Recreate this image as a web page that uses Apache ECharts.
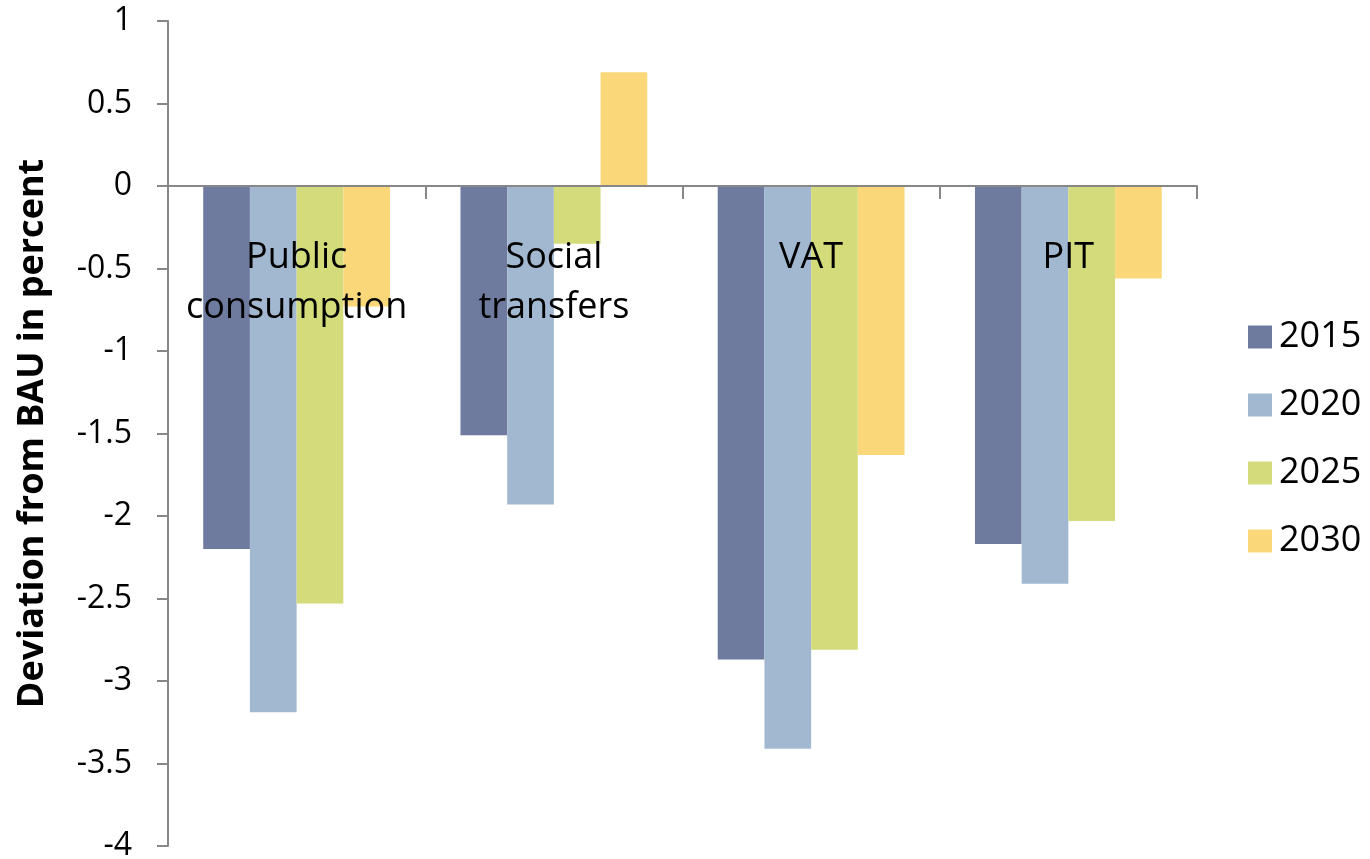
<!DOCTYPE html>
<html>
<head>
<meta charset="utf-8">
<script src="https://cdn.jsdelivr.net/npm/echarts@6/dist/echarts.min.js"></script>
<style>
  html, body { margin: 0; padding: 0; background: #fff; }
  #chart { width: 1370px; height: 859px; }
</style>
</head>
<body>
<div id="chart"></div>
<script>
// Policy instruments (x categories)
const categories = ['Public consumption', 'Social transfers', 'VAT', 'PIT'];
// Years shown as series
const years = ['2015', '2020', '2025', '2030'];
// Deviation from BAU in percent, per year, per instrument
const values2015 = [-2.20, -1.51, -2.87, -2.17];
const values2020 = [-3.19, -1.93, -3.41, -2.41];
const values2025 = [-2.53, -0.35, -2.81, -2.03];
const values2030 = [-0.73, 0.69, -1.63, -0.56];
const seriesValues = [values2015, values2020, values2025, values2030];
const colors = ['#6F7A9F', '#A2B8D0', '#D4DB7A', '#FAD87A'];

const FONT = '"Open Sans", "DejaVu Sans", sans-serif';
const AXIS_GRAY = '#878787';

const chart = echarts.init(document.getElementById('chart'), null, { renderer: 'canvas' });

chart.setOption({
  animation: false,
  backgroundColor: '#ffffff',
  color: colors,
  textStyle: { fontFamily: FONT, color: '#000' },
  grid: { left: 168, right: 173, top: 21, bottom: 13, containLabel: false, outerBoundsMode: 'none' },
  legend: {
    data: years,
    orient: 'vertical',
    left: 1243,
    top: 314,
    icon: 'rect',
    itemWidth: 24,
    itemHeight: 23,
    itemGap: 32,
    textStyle: { fontFamily: FONT, fontSize: 36, color: '#000', lineHeight: 36, padding: [0, 0, 0, 2] },
    selectedMode: false
  },
  xAxis: {
    type: 'category',
    data: categories,
    z: 5,
    axisLine: { onZero: true, lineStyle: { color: AXIS_GRAY, width: 2 } },
    axisTick: { show: true, alignWithLabel: false, length: 13, lineStyle: { color: AXIS_GRAY, width: 2 } },
    axisLabel: {
      interval: 0,
      // category names sit inside the plot, just below the zero line
      margin: -613,
      fontFamily: FONT,
      fontSize: 36,
      lineHeight: 50,
      color: '#000',
      formatter: v => v.replace(' ', '\n')
    },
    splitLine: { show: false }
  },
  yAxis: {
    type: 'value',
    min: -4,
    max: 1,
    interval: 0.5,
    name: 'Deviation from BAU in percent',
    nameLocation: 'middle',
    nameRotate: 90,
    nameGap: 117,
    nameTextStyle: { fontFamily: FONT, fontSize: 36, fontWeight: 'bold', color: '#000' },
    axisLine: { show: true, lineStyle: { color: AXIS_GRAY, width: 2 } },
    axisTick: { show: true, length: 11, lineStyle: { color: AXIS_GRAY, width: 2 } },
    axisLabel: { margin: 36, fontFamily: FONT, fontSize: 32, color: '#000' },
    splitLine: { show: false }
  },
  series: years.map((y, i) => ({
    name: y,
    type: 'bar',
    data: seriesValues[i],
    barWidth: 46.7,
    barGap: '0%',
    itemStyle: { color: colors[i] }
  }))
});
</script>
</body>
</html>
